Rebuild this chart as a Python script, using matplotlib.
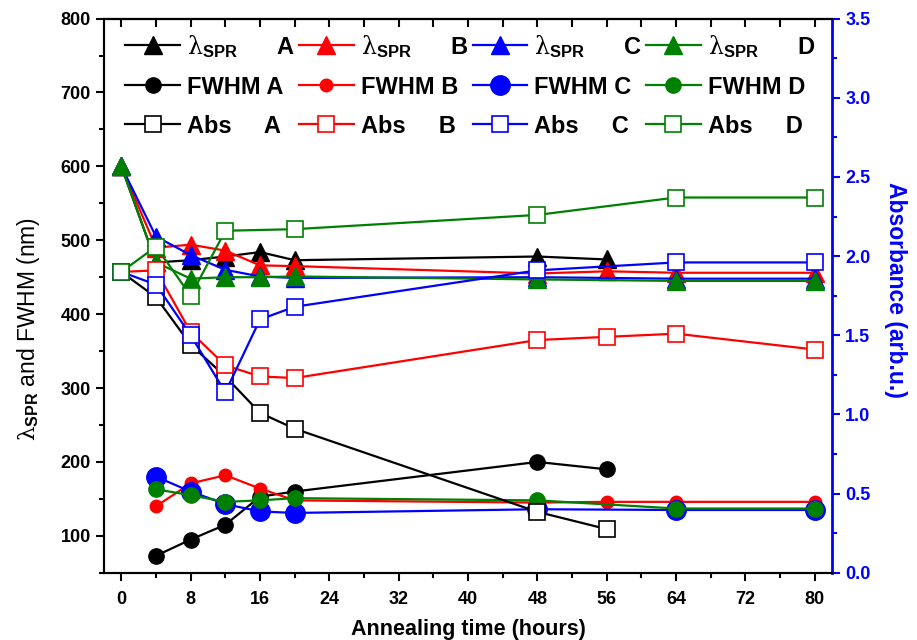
import matplotlib
matplotlib.use("Agg")
import matplotlib.pyplot as plt
from matplotlib.ticker import MultipleLocator

plt.rcParams['font.family'] = ['Liberation Sans', 'DejaVu Sans']
plt.rcParams['mathtext.fontset'] = 'custom'
plt.rcParams['mathtext.rm'] = 'DejaVu Serif'
plt.rcParams['mathtext.it'] = 'DejaVu Serif:italic'
plt.rcParams['mathtext.bf'] = 'Liberation Sans:bold'

# annealing times (hours) and measured values for samples A-D
t_A = [0, 4, 8, 12, 16, 20, 48, 56]
t_B = [0, 4, 8, 12, 16, 20, 48, 56, 64, 80]
t_C = [0, 4, 8, 12, 16, 20, 48, 64, 80]
t_D = [0, 4, 8, 12, 16, 20, 48, 64, 80]

lam_A = [600, 470, 473, 478, 484, 473, 478, 474]
lam_B = [600, 490, 494, 486, 466, 465, 455, 458, 456, 456]
lam_C = [600, 505, 480, 460, 451, 449, 450, 448, 448]
lam_D = [600, 470, 448, 450, 450, 451, 447, 445, 445]

tf_A = [4, 8, 12, 16, 20, 48, 56]
tf_B = [4, 8, 12, 16, 20, 48, 56, 64, 80]
tf_C = [4, 8, 12, 16, 20, 48, 64, 80]
tf_D = [4, 8, 12, 16, 20, 48, 64, 80]
fwhm_A = [73, 95, 115, 153, 160, 200, 190]
fwhm_B = [140, 171, 182, 164, 148, 145, 146, 146, 146]
fwhm_C = [180, 160, 143, 133, 131, 136, 135, 135]
fwhm_D = [163, 155, 146, 148, 151, 148, 137, 137]

ta_A = [0, 4, 8, 12, 16, 20, 48, 56]
ta_B = [0, 4, 8, 12, 16, 20, 48, 56, 64, 80]
ta_C = [0, 4, 8, 12, 16, 20, 48, 64, 80]
ta_D = [0, 4, 8, 12, 20, 48, 64, 80]
abs_A = [1.90, 1.74, 1.44, 1.24, 1.01, 0.91, 0.385, 0.276]
abs_B = [1.90, 1.91, 1.52, 1.31, 1.24, 1.23, 1.47, 1.49, 1.51, 1.41]
abs_C = [1.90, 1.82, 1.50, 1.14, 1.60, 1.68, 1.91, 1.96, 1.96]
abs_D = [1.90, 2.06, 1.75, 2.16, 2.17, 2.26, 2.37, 2.37]

green = '#008000'
samples = [
    ('A', 'black', t_A, lam_A, tf_A, fwhm_A, ta_A, abs_A, 11),
    ('B', 'red', t_B, lam_B, tf_B, fwhm_B, ta_B, abs_B, 9),
    ('C', 'blue', t_C, lam_C, tf_C, fwhm_C, ta_C, abs_C, 14),
    ('D', green, t_D, lam_D, tf_D, fwhm_D, ta_D, abs_D, 11),
]

fig = plt.figure(figsize=(9.17, 6.4), dpi=100)
ax = fig.add_axes([0.1134, 0.105, 0.794, 0.866])
ax2 = ax.twinx()

lam_lbl = r"$\mathrm{\lambda}_{\mathbf{SPR}}$"
handles = []
labels = []
for name, col, t, lam, tf, fw, ta, ab, msz in samples:
    h1, = ax.plot(t, lam, color=col, lw=1.6, marker='^', ms=13, mec=col, mfc=col)
    h2, = ax.plot(tf, fw, color=col, lw=1.6, marker='o', ms=msz, mec=col, mfc=col)
    h3, = ax2.plot(ta, ab, color=col, lw=1.6, marker='s', ms=11, mec=col, mfc='white', mew=1.2)
    handles += [h1, h2, h3]
    labels += [lam_lbl + "      " + name, "FWHM " + name, "Abs     " + name]

ax.set_xlim(-2, 82)
ax.set_ylim(50, 800)
ax2.set_ylim(0, 3.5)

ax.xaxis.set_major_locator(MultipleLocator(8))
ax.xaxis.set_minor_locator(MultipleLocator(4))
ax.yaxis.set_major_locator(MultipleLocator(100))
ax.yaxis.set_minor_locator(MultipleLocator(50))
ax2.yaxis.set_major_locator(MultipleLocator(0.5))
ax2.yaxis.set_minor_locator(MultipleLocator(0.25))
ax.set_yticks(range(100, 801, 100))

ax.tick_params(axis='both', which='major', direction='out', length=6, width=1.5, labelsize=13)
ax.tick_params(axis='x', which='major', pad=7)
ax.tick_params(axis='both', which='minor', direction='out', length=3.5, width=1.5)
ax2.tick_params(axis='y', which='major', direction='out', length=6, width=1.5,
                labelsize=13, colors='blue')
ax2.tick_params(axis='y', which='minor', direction='out', length=3.5, width=1.5, colors='blue')
for lbl in ax.get_xticklabels() + ax.get_yticklabels() + ax2.get_yticklabels():
    lbl.set_fontweight('bold')

# top axis: inward ticks only
top = ax.secondary_xaxis('top')
top.xaxis.set_major_locator(MultipleLocator(4))
top.tick_params(direction='in', length=6, width=1.5, labeltop=False)

for s in ['left', 'bottom', 'top']:
    ax.spines[s].set_linewidth(1.5)
    ax2.spines[s].set_linewidth(1.5)
ax.spines['right'].set_visible(False)
ax2.spines['right'].set_color('blue')
ax2.spines['right'].set_linewidth(2)
top.spines['top'].set_linewidth(1.5)

ax.set_xlabel("Annealing time (hours)", fontsize=15.5, fontweight='bold', labelpad=8)
ax.set_ylabel(lam_lbl + " and FWHM (nm)", fontsize=16.5, fontweight='normal',
              va='center', ha='center')
ax.yaxis.set_label_coords(-0.104, 0.44)
ax2.set_ylabel("Absorbance (arb.u.)", fontsize=16.5, fontweight='bold', color='blue',
               rotation=270, va='center', ha='center')
ax2.yaxis.set_label_coords(1.087, 0.51)

leg = ax2.legend(handles, labels, ncol=4, loc='upper left', frameon=False,
                 prop={'size': 17, 'weight': 'bold'}, handlelength=2.3,
                 handletextpad=0.3, columnspacing=0.2, labelspacing=0.68,
                 borderaxespad=0.2, bbox_to_anchor=(0.01, 1.0))

fig.savefig("out.png", dpi=100)
